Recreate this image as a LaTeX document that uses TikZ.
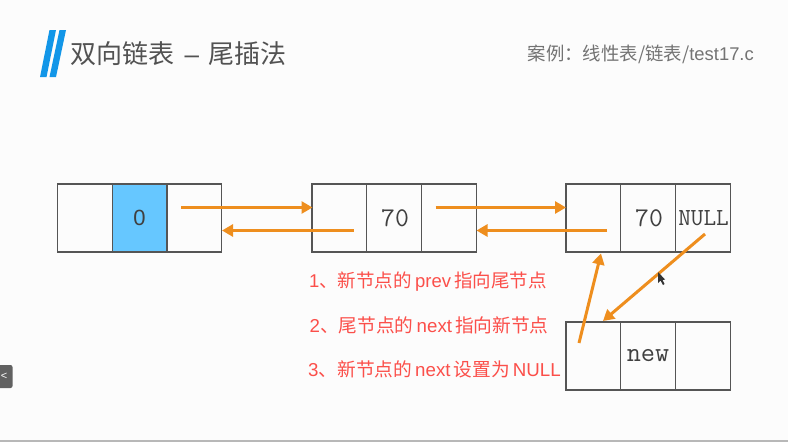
\documentclass[tikz,border=0pt]{standalone}
\usepackage{fontspec}
\setmainfont{Liberation Sans}
\newfontfamily\cjk{Noto Sans CJK SC}
\usetikzlibrary{arrows.meta}
\definecolor{arrowc}{HTML}{EE8E1E}
\definecolor{redtxt}{HTML}{FB4F4A}
\definecolor{bluec}{HTML}{1296E8}
\definecolor{cellblue}{HTML}{66C7FF}
\definecolor{linec}{HTML}{555555}
\tikzset{
  cell/.style={draw=linec,line width=1.2pt,minimum width=54.7pt,minimum height=68pt,inner sep=0pt,outer sep=0pt,anchor=north west,font=\fontsize{27}{27}\ttfamily,text=black!75},
  conn/.style={draw=arrowc,line width=3pt,-{Triangle[length=11pt,width=12pt]}},
  step line/.style={anchor=west,text=redtxt,font=\fontsize{18.5}{19}\selectfont},
}
\begin{document}
\begin{tikzpicture}[x=1pt,y=-1pt]
\useasboundingbox (0,0) rectangle (788,442);
\fill[white!99!black] (0,0) rectangle (788,442);
\fill[black!28] (0,440) rectangle (788,442);
% title
\fill[bluec] (49.5,30) -- (56,30) -- (46.5,77) -- (40,77) -- cycle;
\fill[bluec] (59.5,30) -- (66,30) -- (56,77) -- (49.5,77) -- cycle;
\node[anchor=west,inner sep=0pt,text=black!68,font=\fontsize{26}{27}\selectfont] (title) at (70.5,54) {\cjk 双向链表\hspace{10pt}{\fontspec{Liberation Sans}–}\hspace{9pt}尾插法};
\node[anchor=east,inner sep=0pt,text=black!55,font=\fontsize{18.4}{19}\selectfont] (case) at (754,54) {{\cjk 案例：线性表/链表/}test17.c};
% node 1
\node[cell] (a1) at (57.5,184) {};
\node[cell,fill=cellblue,font=\fontsize{22}{22}\selectfont] (a2) at (112.2,184) {0};
\node[cell] (a3) at (166.9,184) {};
% node 2
\node[cell] (b1) at (312,184) {};
\node[cell] (b2) at (366.7,184) {\hspace{2pt}70};
\node[cell] (b3) at (421.4,184) {};
% node 3
\node[cell] (c1) at (566,184) {};
\node[cell] (c2) at (620.7,184) {\hspace{2pt}70};
\node[cell,font=\fontsize{24.5}{25}\ttfamily] (c3) at (675.4,184) {\hspace{1.5pt}NULL};
% new node
\node[cell] (d1) at (566,322) {};
\node[cell,font=\fontsize{27.5}{28}\ttfamily] (d2) at (620.7,322) {new};
\node[cell] (d3) at (675.4,322) {};
% connector ends
\coordinate (a3s) at (181,207.5);
\coordinate (b1w) at (312.5,207.5);
\coordinate (b1s) at (353.5,230.5);
\coordinate (a3e) at (222,230.5);
\coordinate (b3s) at (435.5,207.5);
\coordinate (c1w) at (566,207.5);
\coordinate (c1s) at (607,230.5);
\coordinate (b3e) at (476.5,230.5);
\coordinate (d1s) at (579,343);
\coordinate (c1b) at (601,253.5);
\coordinate (c3s) at (705,234);
\coordinate (d1t) at (603,321);
\draw[conn] (a3s) -- (b1w);
\draw[conn] (b1s) -- (a3e);
\draw[conn] (b3s) -- (c1w);
\draw[conn] (c1s) -- (b3e);
\draw[conn] (d1s) -- (c1b);
\draw[conn] (c3s) -- (d1t);
% texts
\node[step line,inner sep=0pt] (s1) at (309,282) {1{\cjk 、新节点的}\,prev\,{\cjk 指向尾节点}};
\node[step line,inner sep=0pt,font=\fontsize{18.7}{19}\selectfont] (s2) at (309.5,325.5) {2{\cjk 、尾节点的}\,next\,{\cjk 指向新节点}};
\node[step line,inner sep=0pt,font=\fontsize{18.7}{19}\selectfont] (s3) at (308,369) {3{\cjk 、新节点的}\,next\,{\cjk 设置为}\,NULL};
% cursor
\fill[black!80] (658,272) -- (658,283) -- (660.5,280.5) -- (663,285) -- (664.5,284) -- (662.5,280) -- (665,279.5) -- cycle;
% side tab
\fill[black!62,rounded corners=2pt] (-4,365) rectangle (12.5,388);
\node[text=white,inner sep=0pt,font=\fontsize{11}{11}\selectfont] (tab) at (4,376.5) {<};
\end{tikzpicture}
\end{document}
